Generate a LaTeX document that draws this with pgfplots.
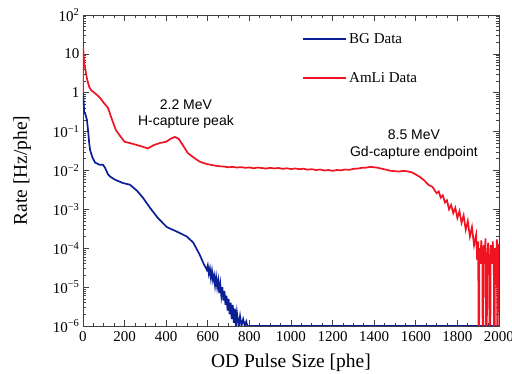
\documentclass[border=0pt]{standalone}
\usepackage{fontspec}
\setmainfont{Liberation Serif}
\newfontfamily\arialfont{Liberation Sans}
\usepackage{pgfplots}
\pgfplotsset{compat=1.18}
\definecolor{bgblue}{RGB}{10,30,150}
\definecolor{amred}{RGB}{240,20,35}
\pgfplotstableread{
x y
0 1.0
3 0.6
6 0.3
10 0.3
14 0.25
19 0.2
25 0.1
30 0.05
34 0.034
45 0.022
58 0.016
80 0.014
96 0.014
105 0.012
110 0.0105
120 0.008
130 0.007
154 0.0058
190 0.0048
226 0.0043
260 0.003
288 0.002
322 0.0011
360 0.0006
403 0.00035
450 0.00027
499 0.0002
530 0.00014
560 7e-5
580 4e-5
595 2.8e-5
600 3.6e-5
605 2.2e-5
610 3.0e-5
615 1.7e-5
620 2.6e-5
625 1.5e-5
630 2.0e-5
635 1.1e-5
640 1.8e-5
645 1.0e-5
650 1.5e-5
655 7e-6
660 1.2e-5
665 6e-6
670 1.0e-5
675 4.5e-6
680 8e-6
685 3.5e-6
690 6e-6
695 2.5e-6
700 5e-6
705 2e-6
710 4e-6
715 1.5e-6
720 3.5e-6
725 1.2e-6
730 2.8e-6
735 1e-6
740 2.2e-6
748 1e-6
755 1.8e-6
762 1e-6
770 1.5e-6
778 1e-6
785 1.3e-6
790 1e-6
2000 1e-6
}\bgdata
\pgfplotstableread{
x y
0 1.0
1 14
4 8
7 5
10 4.4
15 3
20 2.2
30 1.4
40 1.15
60 0.95
82 0.74
100 0.55
120 0.41
140 0.2
158 0.11
180 0.075
200 0.055
230 0.05
254 0.046
280 0.042
312 0.037
340 0.045
370 0.051
400 0.055
420 0.065
442 0.073
460 0.065
480 0.045
504 0.028
530 0.022
560 0.017
580 0.0155
600 0.0145
620 0.0138
640 0.0132
660 0.0128
680 0.0126
700 0.0121
720 0.0124
740 0.0119
760 0.0122
780 0.0117
800 0.0120
820 0.0114
840 0.0119
860 0.0116
880 0.0112
900 0.0117
920 0.0113
940 0.0116
960 0.0110
980 0.0114
1000 0.0109
1020 0.0113
1040 0.0108
1060 0.0111
1080 0.0105
1100 0.0108
1120 0.0103
1140 0.0106
1160 0.0100
1180 0.0103
1200 0.0098
1220 0.0103
1240 0.0101
1260 0.0106
1280 0.0104
1300 0.0110
1320 0.0112
1340 0.0117
1360 0.0118
1380 0.0124
1400 0.0121
1420 0.0117
1440 0.0110
1460 0.0104
1480 0.0098
1500 0.0096
1520 0.0094
1540 0.0098
1560 0.0095
1580 0.0090
1600 0.0079
1620 0.0068
1640 0.0056
1660 0.0043
1680 0.0038
1700 0.0026
1710 0.0029
1720 0.0020
1730 0.0023
1740 0.0015
1750 0.0017
1760 0.0010
1770 0.0013
1780 0.0008
1790 0.0011
1800 0.0006
1810 0.0009
1820 0.00045
1830 0.0007
1840 0.0003
1850 0.0005
1860 0.0002
1870 0.00035
1880 0.00012
1890 0.00022
1895 0.00005
1900 0.00015
1903 1e-8
1906 0.0001
1910 0.00004
1915 0.00016
1920 0.00004
1923 1e-8
1926 0.00012
1930 0.00004
1935 0.00018
1940 1e-8
1943 0.00005
1948 0.00014
1952 0.00004
1957 1e-8
1960 0.00012
1965 0.00004
1970 0.00015
1975 0.00004
1978 1e-8
1981 0.0001
1985 0.00004
1990 0.00017
1993 1e-8
1996 0.00013
2000 0.00004
}\amlidata
\begin{document}
\begin{tikzpicture}
\begin{axis}[
  scale only axis, width=416pt, height=311pt,
  at={(0,0)}, anchor=south west,
  xmin=0, xmax=2000, ymin=1e-6, ymax=100, ymode=log,
  xtick={0,200,...,2000}, minor x tick num=3,
  ytick={1e-6,1e-5,1e-4,1e-3,1e-2,1e-1,1,10,100},
  yticklabels={10\textsuperscript{−6},10\textsuperscript{−5},10\textsuperscript{−4},10\textsuperscript{−3},10\textsuperscript{−2},10\textsuperscript{−1},1,10,10\textsuperscript{2}},
  tick align=inside, tick pos=both,
  major tick length=6pt, minor tick length=3pt,
  tick style={black!75, line width=0.6pt},
  tick label style={font=\fontsize{15}{17}\selectfont},
  x tick label style={yshift=-2pt},
  /pgf/number format/assume math mode=true,
  /pgf/number format/1000 sep={},
  label style={font=\fontsize{19.5}{22}\selectfont},
  xlabel={OD Pulse Size [phe]}, ylabel={Rate [Hz/phe]},
  xlabel shift=5pt, ylabel shift=15pt,
  axis line style={black!75, line width=0.8pt},
  legend style={at={(rel axis cs:0.52,0.955)}, anchor=north west, draw=none, fill=none,
    font=\fontsize{15}{17}\selectfont, row sep=24pt},
  legend cell align=left,
  legend image code/.code={\draw[#1,line width=1.7pt] (0pt,0pt) -- (43pt,0pt);},
]
\addplot[bgblue, line width=1.7pt] table[x=x,y=y] {\bgdata};
\addlegendentry{BG Data}
\addplot[amred, line width=1.7pt] table[x=x,y=y] {\amlidata};
\addlegendentry{AmLi Data}
\node[font=\arialfont\fontsize{14}{16.5}\selectfont, align=center] at (axis cs:495,0.285) {2.2 MeV\\H-capture peak};
\node[font=\arialfont\fontsize{14}{16.5}\selectfont, align=center] at (axis cs:1591,0.046) {8.5 MeV\\Gd-capture endpoint};
\end{axis}
\pgfresetboundingbox
\path[use as bounding box] (-83pt,-48pt) rectangle (429pt,326pt);
\end{tikzpicture}
\end{document}
